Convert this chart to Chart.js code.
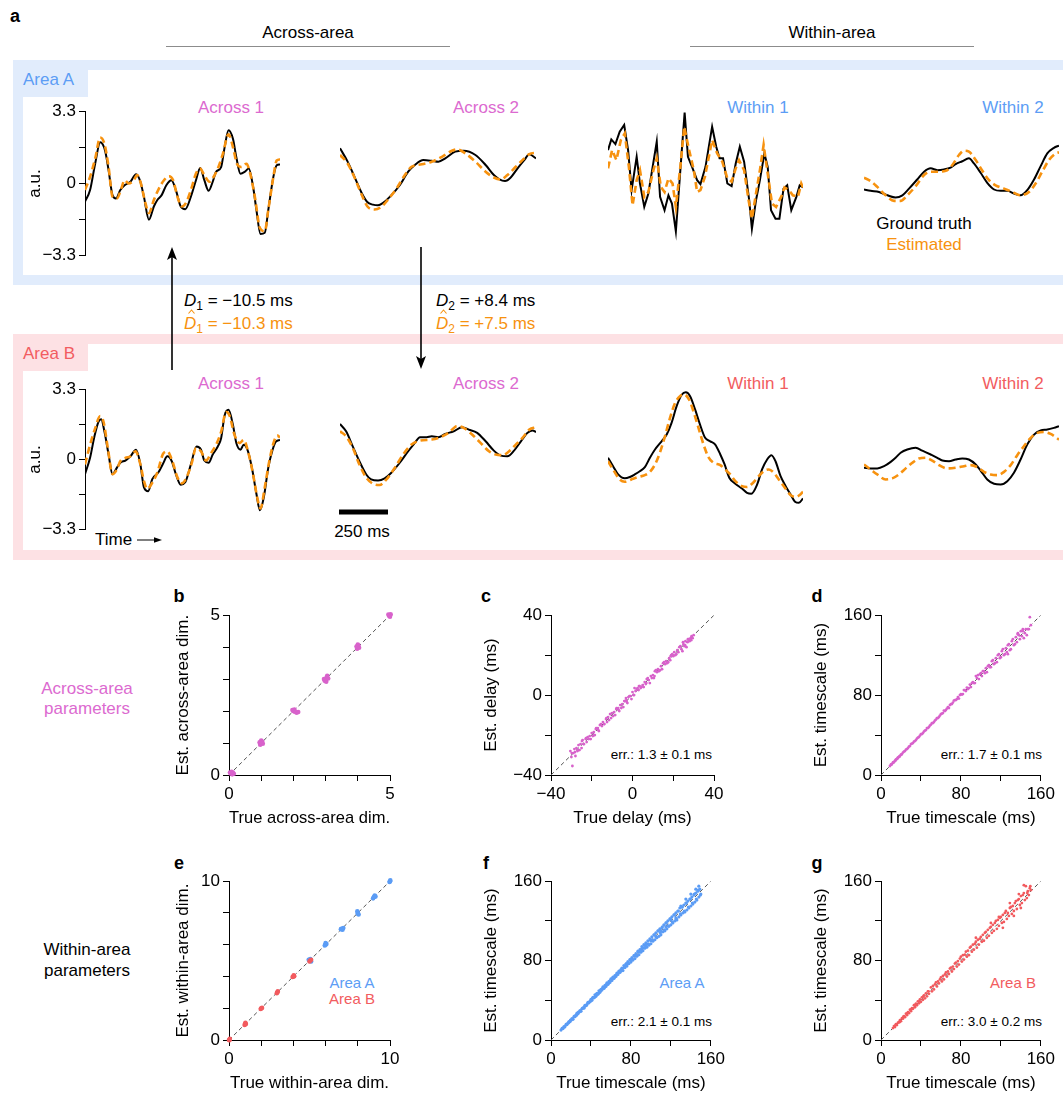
<!DOCTYPE html>
<html>
<head>
<meta charset="utf-8">
<title>Across- and within-area estimates</title>
<script src="https://cdn.jsdelivr.net/npm/chart.js@4.4.1/dist/chart.umd.min.js"></script>
<style>
  html, body { margin: 0; padding: 0; background: #fff; }
  #fig { position: relative; width: 1063px; height: 1094px; overflow: hidden;
         font-family: "Liberation Sans", Arial, Helvetica, sans-serif; color: #000; }
  #fig canvas { position: absolute; }
  .box { position: absolute; }
  .t, .tl, .tr { position: absolute; white-space: nowrap; font-size: 17px; line-height: 1; }
  .t { transform: translate(-50%, -50%); }
  .tl { transform: translateY(-50%); }
  .tr { transform: translate(-100%, -50%); }
  .let { font-weight: bold; font-size: 18px; }
  .err { font-size: 13.5px; }
  .sm { font-size: 15px; }
  .sub { font-size: 12px; position: relative; top: 4px; }
</style>
</head>
<body>
<div id="fig">
  <!-- area boxes -->
  <div class="box" style="left:13px;top:60px;width:1050px;height:225px;background:#e1ecfc"></div>
  <div class="box" style="left:23px;top:70px;width:1040px;height:205px;background:#fff"></div>
  <div class="box" style="left:13px;top:60px;width:75px;height:37px;background:#e1ecfc"></div>
  <div class="box" style="left:13px;top:334px;width:1050px;height:226px;background:#fde1e4"></div>
  <div class="box" style="left:23px;top:344px;width:1040px;height:206px;background:#fff"></div>
  <div class="box" style="left:13px;top:334px;width:75px;height:37px;background:#fde1e4"></div>

  <div class="tl let" style="left:10px;top:16px">a</div>
  <div class="t" style="left:308px;top:32px">Across-area</div>
  <div class="t" style="left:832px;top:32px">Within-area</div>

  <div class="tl" style="left:23px;top:79px;color:#5c9df5">Area A</div>
  <div class="tl" style="left:23px;top:353px;color:#f25c60">Area B</div>

  <div class="t" style="left:231px;top:107px;color:#dc6ad0">Across 1</div>
  <div class="t" style="left:486px;top:107px;color:#dc6ad0">Across 2</div>
  <div class="t" style="left:758px;top:107px;color:#5c9df5">Within 1</div>
  <div class="t" style="left:1013px;top:107px;color:#5c9df5">Within 2</div>
  <div class="t" style="left:231px;top:383px;color:#dc6ad0">Across 1</div>
  <div class="t" style="left:486px;top:383px;color:#dc6ad0">Across 2</div>
  <div class="t" style="left:758px;top:383px;color:#f25c60">Within 1</div>
  <div class="t" style="left:1013px;top:383px;color:#f25c60">Within 2</div>

  <div class="t" style="left:924px;top:223px">Ground truth</div>
  <div class="t" style="left:924px;top:244px;color:#f7920f">Estimated</div>

  <div class="tl" style="left:184px;top:300px"><i>D</i><span class="sub">1</span> = &minus;10.5 ms</div>
  <div class="tl" style="left:184px;top:323px;color:#f7920f"><i>D</i><span class="sub">1</span> = &minus;10.3 ms</div>
  <div class="tl" style="left:436px;top:300px"><i>D</i><span class="sub">2</span> = +8.4 ms</div>
  <div class="tl" style="left:436px;top:323px;color:#f7920f"><i>D</i><span class="sub">2</span> = +7.5 ms</div>

  <div class="tl" style="left:95px;top:539px">Time</div>
  <div class="t" style="left:362px;top:531px">250 ms</div>

  <div class="t let" style="left:179px;top:596px">b</div>
  <div class="t let" style="left:486px;top:596px">c</div>
  <div class="t let" style="left:817px;top:596px">d</div>
  <div class="t let" style="left:179px;top:863px">e</div>
  <div class="t let" style="left:486px;top:863px">f</div>
  <div class="t let" style="left:817px;top:863px">g</div>

  <div class="t" style="left:87px;top:688px;color:#dc6ad0">Across-area</div>
  <div class="t" style="left:87px;top:708px;color:#dc6ad0">parameters</div>
  <div class="t" style="left:87px;top:949px">Within-area</div>
  <div class="t" style="left:87px;top:970px">parameters</div>

  <div class="t sm" style="left:352px;top:982px;color:#5c9df5">Area A</div>
  <div class="t sm" style="left:352px;top:998px;color:#f25c60">Area B</div>
  <div class="t sm" style="left:682px;top:982px;color:#5c9df5">Area A</div>
  <div class="t sm" style="left:1013px;top:982px;color:#f25c60">Area B</div>

  <div class="tr err" style="left:712px;top:755px">err.: 1.3 &plusmn; 0.1 ms</div>
  <div class="tr err" style="left:1042px;top:755px">err.: 1.7 &plusmn; 0.1 ms</div>
  <div class="tr err" style="left:712px;top:1022px">err.: 2.1 &plusmn; 0.1 ms</div>
  <div class="tr err" style="left:1042px;top:1022px">err.: 3.0 &plusmn; 0.2 ms</div>

  <svg class="box" style="left:0;top:0" width="1063" height="1094">
    <line x1="166" y1="46.5" x2="450" y2="46.5" stroke="#8c8c8c" stroke-width="1.2"/>
    <line x1="690" y1="46.5" x2="974" y2="46.5" stroke="#8c8c8c" stroke-width="1.2"/>
    <line x1="172" y1="370" x2="172" y2="255" stroke="#000" stroke-width="1.6"/>
    <path d="M172 247 L167 260 L172 257 L177 260 Z" fill="#000"/>
    <line x1="421" y1="247" x2="421" y2="361" stroke="#000" stroke-width="1.6"/>
    <path d="M421 369 L416 356 L421 359 L426 356 Z" fill="#000"/>
    <rect x="339" y="509.5" width="49" height="5" fill="#000"/>
    <line x1="137" y1="540" x2="157" y2="540" stroke="#000" stroke-width="1"/>
    <path d="M162 540 L154 537.3 L154 542.7 Z" fill="#000"/>
    <!-- hats over the estimated delays -->
    <polyline points="188.5,313.5 191.5,310 194.5,313.5" fill="none" stroke="#f7920f" stroke-width="1.1"/>
    <polyline points="440.5,313.5 443.5,310 446.5,313.5" fill="none" stroke="#f7920f" stroke-width="1.1"/>
  </svg>
</div>

<script>
// ---- panel a: latent traces (time in ms, value in a.u.) ----
const across1A_t = [0,26,52,78,103,121,141,159,181,203,233,262,284,302,328,353,371,393,417,443,466,491,514,543,569,591,612,634,655,672,698,716,736,759,776,797,819,840,862,879,900,922,940,966,983,1000];
const across1A_gt = [-0.83,-0.3,0.9,1.88,1.5,0.6,-0.53,-0.68,-0.3,-0.08,0.08,0.42,0.08,-0.6,-1.65,-1.05,-0.75,-0.53,-0.08,0.15,-0.3,-1.05,-1.17,-0.6,0.15,0.71,0.15,-0.33,0.08,0.53,0.75,1.65,2.43,2.03,1.2,0.45,0.53,0.68,-0.15,-1.2,-2.3,-2.25,-1.2,0.3,0.83,0.87];
const across1A_te = [0,26,52,78,100,121,141,164,186,203,224,250,267,284,310,328,353,379,405,431,452,474,497,517,543,569,590,612,638,659,681,707,736,759,779,802,828,845,871,897,922,940,966,983,1000];
const across1A_est = [-0.3,0.3,1.13,2.1,1.8,0.75,-0.6,-0.68,-0.23,0.15,0,0.15,0.38,0.08,-0.9,-1.35,-0.75,-0.23,0.15,0.33,0.15,-0.6,-1.05,-0.9,-0.3,0.45,0.68,0.38,0.08,0.3,0.68,1.35,2.25,1.65,0.9,0.75,0.9,0.53,-0.6,-2.03,-2.18,-1.2,0.3,1.05,1.1];

const across2A_t = [0,39,74,108,139,168,194,220,254,305,348,382,425,468,502,537,588,631,691,743,785,811,842,871,906,940,966,1000];
const across2A_gt = [1.58,0.98,0.3,-0.38,-0.83,-0.95,-0.98,-0.87,-0.6,-0.08,0.53,0.83,1.05,1.02,0.98,1.13,1.43,1.47,1.28,0.83,0.38,0.2,0.11,0.27,0.68,1.05,1.31,1.13];
const across2A_te = [0,39,74,108,139,177,211,245,288,331,365,417,468,520,571,597,640,691,743,785,820,854,897,931,966,1000];
const across2A_est = [1.28,0.9,0.27,-0.45,-1.02,-1.17,-1.05,-0.72,-0.23,0.38,0.75,0.86,0.98,1.2,1.47,1.53,1.35,0.98,0.53,0.27,0.18,0.38,0.75,1.05,1.32,1.38];

const within1A_t = [0,17,38,60,83,103,121,147,164,186,207,229,250,267,290,310,328,348,371,393,410,431,457,474,500,534,555,572,590,612,634,655,676,698,724,738,759,779,802,819,836,859,879,900,919,940,966,983,1000];
const within1A_gt = [1.5,1.98,1.77,2.33,2.63,1.5,-0.3,1.2,0,-1.05,-0.45,0.75,1.88,-0.6,-1.2,-0.53,-0.9,-2.15,0.6,3.18,1.2,0.75,0.15,-0.03,0.75,2.55,1.65,1.13,1.13,0,-0.12,0.9,1.65,0.98,-0.75,-2.03,-0.75,0.15,1.35,0.75,-1.2,-1.58,-1.58,-0.23,-0.08,-1.2,-0.6,-0.08,-0.18];
const within1A_te = [0,21,43,66,86,107,126,147,164,186,207,233,250,271,290,310,331,348,371,391,414,440,457,474,497,534,560,586,612,634,655,672,698,721,738,759,779,798,819,841,862,888,905,928,948,974,991,1000];
const within1A_est = [0.68,1.5,1.05,1.95,2.25,0.75,-0.98,0.15,0.6,-0.6,-0.38,0.6,1.13,-0.15,-0.38,0.23,0,-1.05,0.75,2.55,1.58,0.6,-0.38,-0.3,0.3,1.95,1.35,0.98,0.23,0.08,0.68,1.05,0.6,-0.75,-1.58,-0.45,0.6,1.73,0.45,-0.9,-1.05,-0.6,-0.18,-0.3,-0.53,-0.6,0,-0.18];

const within2A_t = [0,34,77,120,162,197,231,273,308,342,376,410,444,470,504,538,564,598,632,667,701,735,769,803,837,872,906,940,974,1000];
const within2A_gt = [-0.27,-0.33,-0.38,-0.53,-0.63,-0.53,-0.23,0.18,0.53,0.68,0.6,0.63,0.71,0.87,1.0,1.13,0.9,0.48,0.03,-0.27,-0.33,-0.33,-0.45,-0.53,-0.3,0.18,0.78,1.35,1.6,1.7];
const within2A_te = [0,34,68,111,154,188,222,265,308,342,376,419,453,487,513,538,573,607,641,675,718,761,803,846,880,914,948,983,1000];
const within2A_est = [0.26,0.11,-0.15,-0.53,-0.78,-0.78,-0.53,-0.12,0.38,0.53,0.53,0.57,0.83,1.28,1.47,1.43,1.05,0.57,0.15,-0.08,-0.23,-0.38,-0.53,-0.38,0,0.53,1.05,1.35,1.4];

const across1B_t = [0,26,48,69,83,100,121,141,164,181,207,233,262,284,302,324,345,376,400,422,445,466,491,514,543,572,595,612,634,655,681,698,716,736,759,776,797,814,836,859,879,897,917,940,962,979,1000];
const across1B_gt = [-0.69,0.08,1.07,1.77,1.89,1.3,0.23,-0.69,-0.38,-0.15,-0.05,0.15,0.46,-0.23,-1.3,-1.49,-0.92,-0.61,-0.2,0.15,-0.08,-0.69,-1.18,-1.07,-0.23,0.61,0.46,-0.05,-0.15,0.23,0.61,1.0,2.07,2.33,1.61,0.77,0.46,0.69,0.38,-0.54,-1.61,-2.38,-1.77,-0.38,0.46,0.84,0.92];
const across1B_te = [0,26,52,78,95,117,141,164,181,207,233,259,284,302,319,341,371,400,422,448,474,497,521,548,569,595,621,647,672,698,724,741,767,793,814,836,862,883,900,922,945,969,986,1000];
const across1B_est = [-0.23,0.69,1.46,2.04,1.77,0.54,-0.69,-0.46,-0.08,0.08,0.15,0.38,-0.23,-1.0,-1.38,-1.15,-0.61,0.26,0.38,-0.08,-0.84,-1.12,-0.84,-0.15,0.54,0.38,-0.05,0.31,0.69,1.3,2.23,2.07,1.15,0.77,0.92,0.38,-0.69,-1.77,-2.3,-1.3,-0.08,0.84,1.12,1.03];

const across2B_t = [0,31,65,99,134,159,194,228,262,305,348,382,408,442,468,502,537,580,623,657,700,743,785,820,854,888,923,957,983,1000];
const across2B_gt = [1.64,1.3,0.61,-0.08,-0.69,-0.92,-0.97,-0.87,-0.61,-0.15,0.38,0.77,1.03,1.03,1.07,1.03,1.18,1.3,1.49,1.38,1.23,0.84,0.41,0.18,0.15,0.41,0.84,1.23,1.34,1.27];
const across2B_te = [0,31,65,99,134,168,202,237,280,322,365,408,468,511,554,597,631,674,717,760,794,828,863,897,931,966,1000];
const across2B_est = [1.3,1.07,0.54,-0.23,-0.84,-1.12,-1.18,-0.92,-0.38,0.23,0.69,0.87,0.92,1.03,1.23,1.54,1.46,1.15,0.77,0.38,0.23,0.2,0.38,0.69,1.0,1.38,1.49];

const within1B_t = [0,26,52,86,112,137,163,189,215,241,275,301,326,352,378,399,421,447,472,498,524,550,576,598,622,653,687,713,735,765,790,816,838,859,885,911,936,959,979,1000];
const within1B_gt = [0.08,-0.31,-0.69,-0.87,-0.81,-0.69,-0.54,-0.35,0.08,0.46,0.84,1.15,1.69,2.46,2.99,3.1,2.92,2.3,1.61,1.0,0.84,0.69,0.23,-0.23,-0.84,-1.12,-1.34,-1.54,-1.58,-1.15,-0.46,0,0.2,-0.08,-0.77,-1.23,-1.61,-1.95,-2.0,-1.8];
const within1B_te = [0,26,60,86,120,155,189,215,241,266,292,318,344,369,392,416,438,464,490,515,541,576,601,627,653,687,713,739,773,799,825,850,876,907,936,962,983,1000];
const within1B_est = [-0.08,-0.46,-0.92,-1.03,-0.92,-0.81,-0.72,-0.57,-0.23,0.31,1.07,1.92,2.61,2.92,2.99,2.76,2.23,1.46,0.69,0.11,-0.15,-0.26,-0.46,-0.69,-1.0,-1.23,-1.27,-1.12,-0.77,-0.54,-0.46,-0.61,-0.92,-1.3,-1.64,-1.73,-1.64,-1.49];

const within2B_t = [0,34,68,103,137,162,188,222,265,299,342,376,402,436,470,504,538,573,598,632,667,701,735,769,803,837,872,906,940,974,1000];
const within2B_gt = [-0.38,-0.41,-0.41,-0.31,-0.11,0.08,0.31,0.46,0.54,0.41,0.23,0.08,-0.05,-0.08,0,0.05,0,-0.23,-0.51,-0.92,-1.12,-1.15,-1.0,-0.61,0,0.69,1.15,1.34,1.38,1.46,1.54];
const within2B_te = [0,34,68,111,145,179,214,248,282,316,350,385,427,470,513,547,581,615,649,684,718,752,786,820,855,889,923,957,1000];
const within2B_est = [-0.23,-0.46,-0.69,-0.92,-0.87,-0.69,-0.41,-0.15,0.05,0.08,-0.05,-0.26,-0.41,-0.38,-0.31,-0.26,-0.35,-0.57,-0.69,-0.72,-0.57,-0.26,0.2,0.61,1.0,1.23,1.27,1.18,0.92];

// ---- panel b: across-area dimensionality ----
const acrossDimTrue = [0.05,0.1,0.12,0.08,0.15,0.03,1,1.03,0.97,1.05,1,0.95,2,2.05,2.1,1.97,2.03,2.15,3,3.03,2.97,3.05,2.95,3.02,3.08,4,4.02,3.98,4.04,4,3.96,5,4.97,5.02,4.95,5];
const acrossDimEst = [0.05,0.02,0.08,0.1,0.04,0.08,1,1.05,0.95,0.98,1.08,1.02,2,1.98,1.95,2.03,2.05,1.97,3,3.05,2.95,3.1,3,2.92,3.02,4,4.05,3.95,3.98,4.08,4.02,5,4.98,5.03,5.02,4.95];

// ---- panel c: delays (ms) ----
const delayTrue = [-30.5,-30,-29.5,-29,-28.5,-28,-27.5,-27,-26.5,-26,-25,-24.5,-24,-23,-22.5,-22,-21,-20.5,-20,-19,-18.5,-18,-17,-16.5,-16,-15,-14.5,-14,-13,-12.5,-12,-11,-10.5,-10,-9,-8.5,-8,-7,-6.5,-6,-5,-4.5,-4,-3,-2.5,-2,-1,-0.5,0,0.5,1,1.5,2,3,3.5,4,5,5.5,6,6.5,7,8,8.5,9,10,10.5,11,12,12.5,13,14,14.5,15,16,16.5,17,18,18.5,19,20,20.5,21,22,22.5,23,24,24.5,25,25.5,26,26.5,27,27.5,28,28.5,29,29.5,30,
    -29.8,-28.2,-26.8,-25.5,-23.8,-22.8,-21.5,-19.5,-17.8,-16.8,-15.5,-13.8,-12.8,-11.5,-9.5,-7.8,-6.8,-5.5,-3.8,-2.8,-1.5,0.8,2.5,4.5,6.8,7.5,9.5,11.5,13.5,15.5,17.5,19.5,21.5,23.5,25.8,27.2,28.8,-24.8,-18.8,-10.8,-3.2,3.2,10.8,18.8,24.8];
const delayEst = [-28,-31,-35.5,-29,-27,-30.5,-26.5,-28,-25,-27.5,-26.5,-22.5,-24.5,-22,-23.5,-21,-20.5,-22,-19,-18.5,-20,-17,-16.5,-18,-15,-15.5,-13.5,-14.5,-12,-13.5,-11,-9.5,-11.5,-9,-8.5,-10,-7,-6.5,-8,-5,-4.5,-6,-3,-2.5,-4,-1,-0.5,-2,1.5,0,3.5,2,3,2.5,4.5,3.5,5,4,6.5,5.5,8,7.5,6,9.5,10,8.5,12,11.5,13,12,14.5,13,16,15.5,17,16,18.5,17.5,20,19.5,21.5,20,22.5,21.5,24,23,22,25.5,24.5,27,24,26.5,28,27,28.5,29.5,28.5,30,
    -29,-28.5,-27.5,-24.5,-24.5,-21.5,-22,-20.5,-16.5,-17.5,-14.5,-14.5,-11.5,-12.5,-10.5,-6.5,-7.5,-6.5,-3,-3.5,-0.5,0,3.5,4,6,8.5,8.5,12.5,12.5,16.5,16.5,20.5,20.5,24.5,25,28,27.5,-23,-20,-9.5,-1.5,4.5,9.5,19.5,26.5];

// ---- panel d: across-area timescales (ms) ----
const acrossTauTrue = [9,10,11,12,13,14,15,16,17,18,19,20,21,22,24,25,26,28,29,30,32,33,35,36,38,39,40,42,43,45,46,48,50,51,53,55,56,58,60,62,63,65,67,68,70,72,73,75,77,78,80,82,83,85,86,88,89,90,92,94,95,96,97,98,100,101,102,104,105,106,108,110,111,113,115,116,118,120,121,123,125,126,128,130,131,133,135,136,138,139,140,141,143,144,145,146,148,149,150,137,142,127,
    10.5,12.5,14.5,16.5,18.5,20.5,23,27,31,34,37,41,44,47,49,52,54,57,59,61,64,66,69,71,74,76,79,81,84,87,91,93,99,103,107,109,112,114,117,119,122,124,127,129,132,134,137,142,147];
const acrossTauEst = [9,10.5,11,12.5,13,14,15.5,16,17.5,18,19,20.5,21,22.5,24,25.5,26,28.5,29,31,32,33.5,35,36.5,38,39.5,41,42,43.5,45,47,48,50.5,52,53,55.5,57,58,61,62,64.5,65,68,67,71,72.5,74.5,75,78,76.5,81,81,85,84,87.5,87,90.5,88,93,92,99,97,100,96,102,99,104,102,107,103,110,108,114,111,117,113,121,118,124,120,127,123,131,126,134,130,138,133,140,136,144,139,137,142,146,140,146,158,150,142,146,121,
    10.5,12.5,14.5,16.5,18.5,20.5,23.5,27,31.5,34,37.5,41,44.5,47,49.5,52,54.5,57,59.5,61.5,64,66.5,70,71,75,76,80,80.5,85,86,92,92,101,104,109,108,115,112,120,117,126,121,130,125,136,131,141,144,146];

// ---- panel e: within-area dimensionality ----
const withinDimTrueA = [5,5.05,4.95,5.1,6,6.05,5.95,6,7,7.1,6.95,7.05,8,7.97,8.05,8,9,9.05,8.95,9.1,10,9.97,10.02];
const withinDimEstA = [5,5.1,5.05,4.95,6,6.05,5.95,6.1,7,7.05,6.98,6.95,8,8.1,7.9,7.95,9,9.1,8.92,9.03,10,9.95,10.05];
const withinDimTrueB = [0,0.05,0.03,1,1.02,0.97,1.05,2,2.05,1.97,3,3.03,2.97,4,4.05,3.95,4.02,5.05,5.1,5];
const withinDimEstB = [0,0.08,-0.02,1,1.08,0.95,1,2,2.02,1.95,3,3.06,2.95,4,4.02,3.97,4.08,5,5.05,4.95];

// ---- panel f: within-area timescales, area A (ms) ----
const tauTrueA = [10,11,12,13,14,15,16,17,18,19,20,21,22,23,24,25,26,27,28,29,30,31,32,33,34,35,36,37,38,39,40,41,42,43,44,45,46,47,48,49,50,51,52,53,54,55,56,57,58,59,60,61,62,63,64,65,66,67,68,69,70,71,72,73,74,75,76,77,78,79,80,81,82,83,84,85,86,87,88,89,90,91,92,93,94,95,96,97,98,99,100,101,102,103,104,105,106,107,108,109,110,111,112,113,114,115,116,117,118,119,120,121,122,123,124,125,126,127,128,129,130,131,132,133,134,135,136,137,138,139,140,141,142,143,144,145,146,147,148,149,150,148,145,140,135,130,125,120,115,110,105,100,95,90,85,80,75,70,65,60,55,50,45,
    11.5,13.5,15.5,17.5,19.5,21.5,23.5,25.5,27.5,29.5,31.5,33.5,35.5,37.5,39.5,41.5,43.5,45.5,47.5,49.5,51.5,53.5,55.5,57.5,59.5,61.5,63.5,65.5,67.5,69.5,71.5,73.5,75.5,77.5,79.5,81.5,83.5,85.5,87.5,89.5,91.5,93.5,95.5,97.5,99.5,101.5,103.5,105.5,107.5,109.5,111.5,113.5,115.5,117.5,119.5,121.5,123.5,125.5,127.5,129.5,131.5,133.5,135.5,137.5,139.5,141.5,143.5,145.5,147.5,149.5];
const tauEstA = [10,11.5,11.5,13.5,13.5,15.5,15.5,17,18.5,18.5,20,21.5,21,23.5,23.5,25,27,26.5,28,29.5,29,31.5,32.5,32,35,34.5,36,38,37.5,39,41,40,43,42.5,45.5,44,47,46,49.5,48,51,50.5,53.5,52,55,54,57.5,56,59,58,61.5,60,63.5,62,65,64,67.5,66,69.5,68,71,72.5,70,75,73,76.5,74.5,79,77,81,78.5,83,80.5,85,82,87,84.5,89.5,86,91,88.5,94,90,96,92.5,98,93.5,100,95.5,102,97,104,99.5,106,101,108,103,110,104.5,112,106,113,109,116,110,118,112,120,114.5,122,116,124,118,126,120,128,121,130,124,133,126,134,128,136,129,138,131,140,133,142,135,144,137,146,139,148,141,150,144,152,147,155,152,147,142,135,123,121,114,110,104,100,95,91,85,80,75,70,65,60,55,50,45,
    12,13,16,17.5,20,21,24,25,28,29,32,33.5,35,38,39,42,43,46,47,50,52,53,56,57,60,62,63,66,68,69,72,73.5,77,77,81,81,85,85,89,89,93,93,97,97,101,101,106,104,110,108,114,111,118,115,122,119,126,122,130,127,134,130,138,134,142,138,147,142,151,146];

// ---- panel g: within-area timescales, area B (ms) ----
const tauTrueB = [12,13,14,15,16,17,18,19,20,21,22,23,24,25,26,27,28,29,30,31,32,33,34,35,36,37,38,39,40,41,42,43,44,45,46,47,48,50,51,52,53,55,56,57,58,60,61,62,63,65,66,67,68,70,71,72,73,75,76,77,78,80,81,82,83,85,86,87,88,90,91,92,93,95,96,97,98,100,101,102,103,105,106,107,108,110,111,112,113,115,116,117,118,120,121,122,123,125,126,127,128,130,131,132,133,135,136,138,139,140,141,143,144,145,146,147,148,149,150,143,138,129,118,110,95,122,133,140,
    14.5,18.5,22.5,26.5,30.5,34.5,38.5,42.5,47.5,54,59,64,69,74,79,84,89,94,99,104,109,114,119,124,129,134,137,142,146.5,149.5];
const tauEstB = [12,14,13,16,15,17.5,18,20,19,22,21.5,24,23,26.5,25,28,27,30.5,29,32,31.5,35,33,36.5,35,39,37,41,38.5,43,40.5,45,42,47,44,49,46.5,53,49,54.5,51,58,54,59,57,63,59,64.5,61,68,64,69,66.5,73,69,74,71.5,78,74,79.5,76,84,79,85.5,81,89,84,90,85.5,94,89,96,91,99,93,101,96,104,99,106,100,109,103,111,105,114,108,116,110,120,112,121,115,124,118,126,119,130,122,128,125,134,127,135,130,140,132,142,136,145,138,148,141,155,143,150,146,153,151,156,147,138,124,118,103,113,125,133,
    15,18,23.5,27,31,35.5,39,44,49,56,61,66,72,77,82,86,93,97,102,108,113,118,123,128,133,138,141,146,148,155];

const ORANGE = '#f7920f';
const PINK = '#d862cb';
const BLUE = '#5b9cf5';
const RED = '#f25a5e';

Chart.defaults.font.family = "'Liberation Sans', Arial, Helvetica, sans-serif";
Chart.defaults.font.size = 17;
Chart.defaults.color = '#000';

const fig = document.getElementById('fig');

function addCanvas(left, top, w, h) {
    const c = document.createElement('canvas');
    c.width = w;
    c.height = h;
    c.style.left = left + 'px';
    c.style.top = top + 'px';
    c.style.width = w + 'px';
    c.style.height = h + 'px';
    fig.appendChild(c);
    return c;
}

const pts = (xs, ys) => xs.map((x, i) => ({x: x, y: ys[i]}));
const minus = v => v < 0 ? '\u2212' + Math.abs(v) : String(v);

const baseOptions = {
    responsive: false,
    animation: false,
    devicePixelRatio: 1,
    events: [],
    plugins: {legend: {display: false}, tooltip: {enabled: false}},
};

function tickedAxis(min, max, ticks, labels, title, isX, size) {
    return {
        type: 'linear', min: min, max: max, display: true,
        afterBuildTicks: s => { s.ticks = ticks.map(v => ({value: v})); },
        ticks: {autoSkip: false, maxRotation: 0, padding: 3, callback: v => labels.includes(v) ? minus(v) : ''},
        grid: {drawOnChartArea: false, drawTicks: true, tickLength: 6, color: '#000', lineWidth: 1},
        border: {display: true, color: '#000', width: 1},
        title: {display: true, text: title, padding: isX ? {top: 0, bottom: 0} : {top: 4, bottom: 4}},
        afterFit: s => { if (isX) { s.height = size; } else { s.width = size; } }
    };
}

// one trace panel of figure a; the chart area is given in page pixels
function traceChart(area, tGt, gt, tEst, est, withAxis, smooth) {
    const yw = 64;
    const pad = withAxis ? 12 : 4;
    const left = area.l - (withAxis ? yw : 4);
    const top = area.t - pad;
    const c = addCanvas(left, top, area.r + 4 - left, area.b + pad - top);
    const mode = smooth ? 'monotone' : 'default';
    const yAxis = withAxis
        ? tickedAxis(-3.3, 3.3, [-3.3, -1.65, 0, 1.65, 3.3], [-3.3, 0, 3.3], 'a.u.', false, yw)
        : {type: 'linear', min: -3.3, max: 3.3, display: false};
    return new Chart(c.getContext('2d'), {
        type: 'line',
        data: {
            datasets: [
                {data: pts(tEst, est), borderColor: ORANGE, borderWidth: 2.6, borderDash: [7, 4],
                 pointRadius: 0, fill: false, cubicInterpolationMode: mode, tension: smooth ? 0.4 : 0},
                {data: pts(tGt, gt), borderColor: '#000', borderWidth: 2, pointRadius: 0, fill: false,
                 cubicInterpolationMode: mode, tension: smooth ? 0.4 : 0},
            ]
        },
        options: Object.assign({}, baseOptions, {
            layout: {padding: {left: withAxis ? 0 : 4, right: 4, top: pad, bottom: pad}},
            scales: {x: {type: 'linear', min: 0, max: 1000, display: false}, y: yAxis}
        })
    });
}

function scatterChart(area, yw, xr, yr, ticks, labels, xTitle, yTitle, series) {
    const left = area.l - yw;
    const top = area.t - 12;
    const c = addCanvas(left, top, area.r + 14 - left, area.b + 54 - top);
    const datasets = series.map(s => ({
        data: pts(s.x, s.y), backgroundColor: s.color, borderWidth: 0,
        pointRadius: s.r, pointHoverRadius: 0, clip: false
    }));
    datasets.push({
        data: [{x: xr[0], y: yr[0]}, {x: xr[1], y: yr[1]}], showLine: true,
        borderColor: '#555', borderWidth: 1, borderDash: [4, 3], pointRadius: 0
    });
    return new Chart(c.getContext('2d'), {
        type: 'scatter',
        data: {datasets: datasets},
        options: Object.assign({}, baseOptions, {
            layout: {padding: {left: 0, right: 14, top: 12, bottom: 0}},
            scales: {
                x: tickedAxis(xr[0], xr[1], ticks, labels, xTitle, true, 54),
                y: tickedAxis(yr[0], yr[1], ticks, labels, yTitle, false, yw)
            }
        })
    });
}

// panel a
const rowA = {t: 110, b: 257};
const rowB = {t: 388, b: 531};
const cols = [{l: 85, r: 280}, {l: 340, r: 536}, {l: 608, r: 803}, {l: 864, r: 1059}];
const box = (col, row) => ({l: col.l, r: col.r, t: row.t, b: row.b});

traceChart(box(cols[0], rowA), across1A_t, across1A_gt, across1A_te, across1A_est, true, true);
traceChart(box(cols[1], rowA), across2A_t, across2A_gt, across2A_te, across2A_est, false, true);
traceChart(box(cols[2], rowA), within1A_t, within1A_gt, within1A_te, within1A_est, false, false);
traceChart(box(cols[3], rowA), within2A_t, within2A_gt, within2A_te, within2A_est, false, true);
traceChart(box(cols[0], rowB), across1B_t, across1B_gt, across1B_te, across1B_est, true, true);
traceChart(box(cols[1], rowB), across2B_t, across2B_gt, across2B_te, across2B_est, false, true);
traceChart(box(cols[2], rowB), within1B_t, within1B_gt, within1B_te, within1B_est, false, true);
traceChart(box(cols[3], rowB), within2B_t, within2B_gt, within2B_te, within2B_est, false, true);

// panels b-g
scatterChart({l: 229, t: 614, r: 390, b: 775}, 60, [0, 5], [0, 5], [0, 1, 2, 3, 4, 5], [0, 5],
    'True across-area dim.', 'Est. across-area dim.',
    [{x: acrossDimTrue, y: acrossDimEst, color: PINK, r: 2.3}]);
scatterChart({l: 551, t: 614, r: 714, b: 775}, 74, [-40, 40], [-40, 40], [-40, -20, 0, 20, 40], [-40, 0, 40],
    'True delay (ms)', 'Est. delay (ms)',
    [{x: delayTrue, y: delayEst, color: PINK, r: 1.4}]);
scatterChart({l: 881, t: 614, r: 1044, b: 775}, 74, [0, 160], [0, 160], [0, 40, 80, 120, 160], [0, 80, 160],
    'True timescale (ms)', 'Est. timescale (ms)',
    [{x: acrossTauTrue, y: acrossTauEst, color: PINK, r: 1.4}]);
scatterChart({l: 229, t: 880, r: 390, b: 1040}, 60, [0, 10], [0, 10], [0, 2, 4, 6, 8, 10], [0, 10],
    'True within-area dim.', 'Est. within-area dim.',
    [{x: withinDimTrueB, y: withinDimEstB, color: RED, r: 2.3},
     {x: withinDimTrueA, y: withinDimEstA, color: BLUE, r: 2.3}]);
scatterChart({l: 551, t: 880, r: 714, b: 1040}, 74, [0, 160], [0, 160], [0, 40, 80, 120, 160], [0, 80, 160],
    'True timescale (ms)', 'Est. timescale (ms)',
    [{x: tauTrueA, y: tauEstA, color: BLUE, r: 1.6}]);
scatterChart({l: 881, t: 880, r: 1044, b: 1040}, 74, [0, 160], [0, 160], [0, 40, 80, 120, 160], [0, 80, 160],
    'True timescale (ms)', 'Est. timescale (ms)',
    [{x: tauTrueB, y: tauEstB, color: RED, r: 1.4}]);
</script>
</body>
</html>
